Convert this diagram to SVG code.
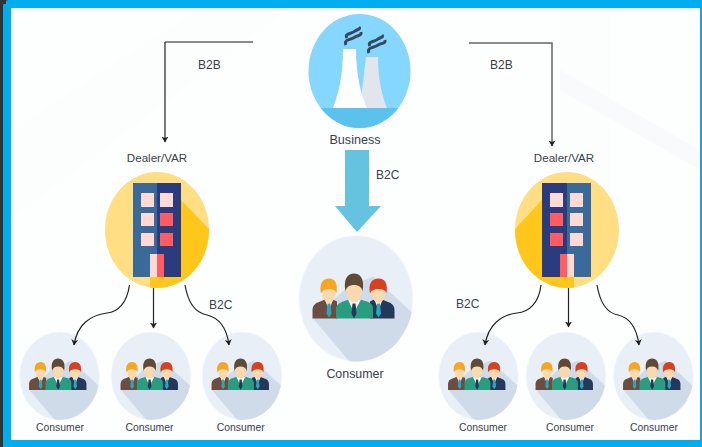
<svg xmlns="http://www.w3.org/2000/svg" width="702" height="447" viewBox="0 0 702 447">
<style>
text{font-family:"Liberation Sans",Arial,sans-serif;fill:#3c3f4a}
.s{font-size:10.4px;text-anchor:middle}
.m{font-size:12px}
.c{fill:none;stroke:#222;stroke-width:1.2}
.g{fill:none;stroke:#666;stroke-width:1.5}
.dark{fill:#2A3C7E}.mid{fill:#396A9A}.pale{fill:#FFD9D5}.red{fill:#FF5C63}
</style>
<defs>
<marker id="ah" markerWidth="8" markerHeight="8" refX="5.5" refY="4" orient="auto" markerUnits="userSpaceOnUse"><path d="M0,0.5 L6,4 L0,7.5 L1.6,4 Z" fill="#222"/></marker>
<clipPath id="cc"><ellipse cx="0" cy="0" rx="57" ry="63"/></clipPath>
<clipPath id="bl"><ellipse cx="157" cy="230" rx="52" ry="58"/></clipPath>
<clipPath id="br"><ellipse cx="567" cy="230" rx="52" ry="58"/></clipPath>
<clipPath id="bz"><ellipse cx="359.5" cy="71" rx="51" ry="57"/></clipPath>
<g id="people">
<ellipse cx="0" cy="0" rx="57" ry="63" fill="#E9EFF6" stroke="#F6F9FC" stroke-width="1"/>
<path d="M-43,20 L-4,66 L60,66 L60,18 L56,14 L17,-22 L-10,-10 Z" fill="#CFDBE8" clip-path="url(#cc)"/>
<path d="M-43.5,20 V11 Q-43,5 -37,3.500 L-31,1 H-23 L-19,3 V20 Z" fill="#6D4C41"/>
<path d="M-31,1 L-27,12 L-23,1 Z" fill="#fff"/><path d="M-28.500,5 H-25.500 L-24.500,15 L-27,19 L-29.500,15 Z" fill="#2AA7B8"/>
<ellipse cx="-27" cy="-7.500" rx="7" ry="12" fill="#FBD9AE"/>
<path d="M-35,-5 C-37,-15 -33,-20 -27,-20 C-21,-20 -18,-15 -19.500,-5 C-20,-8 -23,-9.500 -27,-9.500 C-31,-9.500 -34,-8 -35,-5 Z" fill="#F6A623"/>
<path d="M38.500,20 V11 Q38,5 32,3.500 L26,1 H18 L14,3 V20 Z" fill="#24385B"/>
<path d="M18.500,1 L22.500,12 L26.500,1 Z" fill="#fff"/><path d="M21,5 H24 L25,15 L22.500,19 L20,15 Z" fill="#2AA7B8"/>
<ellipse cx="22.500" cy="-7.500" rx="7" ry="12" fill="#FBD9AE"/>
<path d="M14,-5 C12,-15 16,-20 22.500,-20 C29,-20 32,-15 30.500,-5 C30,-8 27,-9.500 22.500,-9.500 C18,-9.500 15,-8 14,-5 Z" fill="#D8401F"/>
<path d="M-20,20 V9 Q-19,5 -13,3 L-7,1 H4 L11,3 Q17,5 17,10 V20 Z" fill="#2A9D80"/>
<path d="M-8,1 L-2,14 L5,1 Z" fill="#fff"/><path d="M-3.500,5 H-0.500 L0.500,15 L-2,20 L-4.500,15 Z" fill="#24385B"/>
<ellipse cx="-2" cy="-10" rx="8" ry="14" fill="#FBD9AE"/>
<path d="M-10.500,-7 C-13,-20 -8,-25 -2,-25 C4,-25 9,-20 6.500,-7 C6,-11 3,-13.500 -2,-13.500 C-7,-13.500 -10,-11 -10.500,-7 Z" fill="#5D4A37"/>
</g>
</defs>

<g id="frame">
<rect width="702" height="447" fill="#00AEEF"/>
<rect x="0" y="0" width="3" height="447" fill="#333"/>
<rect x="0" y="0" width="6" height="4" fill="#333"/>
<path d="M3,8 Q3,0 9,0 H6 V0 H3 Z" fill="#333"/>
<rect x="11" y="8" width="689" height="432" fill="#FDFEFE"/>
<path d="M11,220 L290,8 H200 L11,130 Z" fill="#FCFDFD"/>
<path d="M560,8 H610 V260 H560 Z" fill="#FCFDFD"/>
<path d="M560,70 L700,150 V170 L560,90 Z" fill="#F9FAFB"/>
</g>

<g id="business">
<ellipse cx="359.500" cy="71" rx="51" ry="57" fill="#85D7FF"/>
<rect x="300" y="108" width="120" height="25" fill="#5BC2EE" clip-path="url(#bz)"/>
<path d="M366,57 H378 C378,80 382,95 387,108 H360 Z" fill="#E1E5EC"/>
<path d="M343,49 H356 C356,75 361,95 367,108 H333 C339,92 343,75 343,49 Z" fill="#fff"/>
<g fill="none" stroke="#37485C" stroke-width="3">
<path d="M347,38 C344,33 352,34 355,31 C358,29 361,29 359,27"/>
<path d="M346,45 C343,39 352,40 355,37 C358,35 362,36 361,32"/>
<path d="M370,46 C367,41 375,42 378,39 C381,37 384,37 382,35"/>
<path d="M369,53 C366,47 375,48 378,45 C381,43 386,44 385,40"/>
</g>
<text x="355" y="144" font-size="12.600" text-anchor="middle">Business</text>
</g>

<g id="dealer-left">
<ellipse cx="157" cy="230" rx="52" ry="58" fill="#FFDE84"/>
<path d="M181,200 L209,229 V290 H150 V277 Z" fill="#FFC61B" clip-path="url(#bl)"/>
<rect class="mid" x="133" y="183" width="24" height="94"/><rect class="dark" x="157" y="183" width="24" height="94"/>
<rect class="pale" x="141" y="193" width="13" height="14"/><rect class="pale" x="160" y="193" width="13" height="14"/>
<rect class="pale" x="141" y="213" width="13" height="13"/><rect class="red" x="160" y="213" width="13" height="13"/>
<rect class="pale" x="141" y="233" width="13" height="13"/><rect class="red" x="160" y="233" width="13" height="13"/>
<rect class="pale" x="150" y="254" width="7" height="23"/><rect class="red" x="157" y="254" width="7" height="23"/>
<text x="157" y="162" font-size="11.600" text-anchor="middle">Dealer/VAR</text>
</g>

<g id="dealer-right">
<ellipse cx="567" cy="230" rx="52" ry="58" fill="#FFDE84"/>
<path d="M542,200 L515,229 V290 H574 V277 Z" fill="#FFC61B" clip-path="url(#br)"/>
<rect class="dark" x="542" y="183" width="25" height="94"/><rect class="mid" x="567" y="183" width="24" height="94"/>
<rect class="pale" x="550" y="193" width="13" height="14"/><rect class="pale" x="570" y="193" width="13" height="14"/>
<rect class="red" x="550" y="213" width="13" height="13"/><rect class="pale" x="570" y="213" width="13" height="13"/>
<rect class="red" x="550" y="233" width="13" height="13"/><rect class="pale" x="570" y="233" width="13" height="13"/>
<rect class="red" x="560" y="254" width="7" height="23"/><rect class="pale" x="567" y="254" width="7" height="23"/>
<text x="564" y="162" font-size="11.600" text-anchor="middle">Dealer/VAR</text>
</g>

<g id="consumer-center"><use href="#people" transform="translate(356,298.500)"/><text x="355" y="378" font-size="12.400" text-anchor="middle">Consumer</text></g>
<g id="consumer-l1"><use href="#people" transform="translate(59.500,376) scale(.7)"/><text class="s" x="60" y="431">Consumer</text></g>
<g id="consumer-l2"><use href="#people" transform="translate(151,376) scale(.7)"/><text class="s" x="149.500" y="431">Consumer</text></g>
<g id="consumer-l3"><use href="#people" transform="translate(242,376) scale(.7)"/><text class="s" x="240.700" y="431">Consumer</text></g>
<g id="consumer-r1"><use href="#people" transform="translate(478.500,376) scale(.7)"/><text class="s" x="483" y="431">Consumer</text></g>
<g id="consumer-r2"><use href="#people" transform="translate(566,376) scale(.7)"/><text class="s" x="570" y="431">Consumer</text></g>
<g id="consumer-r3"><use href="#people" transform="translate(653.500,376) scale(.7)"/><text class="s" x="654" y="431">Consumer</text></g>

<g id="connectors">
<path class="g" d="M253,42 H165"/>
<path class="c" d="M165,42 V142" marker-end="url(#ah)"/>
<path class="g" d="M469,43 H552 V146" marker-end="url(#ah)"/>
<path class="c" d="M129.500,285 C127,303 118,312 107,313 C90,315 77,325 74,345" marker-end="url(#ah)"/>
<path class="c" d="M153.500,288 V328" marker-end="url(#ah)"/>
<path class="c" d="M185,285 C188,303 196,313 207,315 C220,318 227,330 229,345" marker-end="url(#ah)"/>
<path class="c" d="M541,285 C539,303 529,312 517,313 C501,315 488,325 485,345" marker-end="url(#ah)"/>
<path class="c" d="M568.500,288 V327" marker-end="url(#ah)"/>
<path class="c" d="M597,285 C600,303 607,313 618,315 C631,318 637,330 639,345" marker-end="url(#ah)"/>
<path d="M345,150 H369 V206 H381 L357,232 L335,206 H345 Z" fill="#65C3DF"/>
</g>

<g id="labels">
<text class="m" x="198" y="69">B2B</text>
<text class="m" x="490" y="69">B2B</text>
<text class="m" x="376" y="179">B2C</text>
<text class="m" x="209" y="309">B2C</text>
<text class="m" x="456" y="308">B2C</text>
</g>
</svg>
